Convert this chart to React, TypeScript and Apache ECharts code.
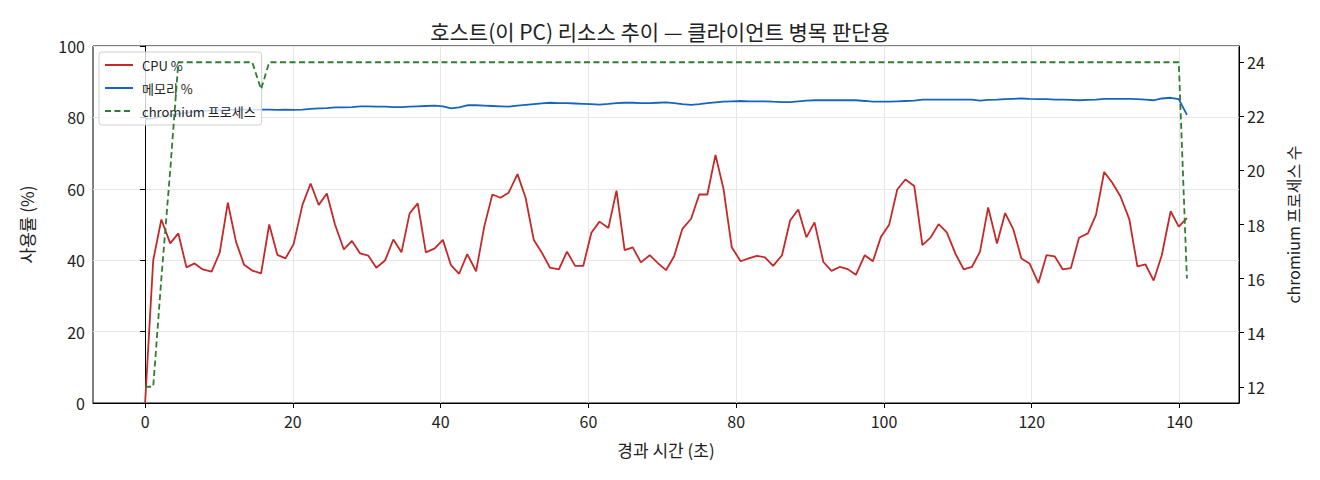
import React, { useEffect, useRef } from 'react';
import * as echarts from 'echarts';

const FONT = '"Noto Sans CJK KR", "Noto Sans", sans-serif';
const FG = '#222222';
const GRID_COLOR = '#e6e6e6';

const CPU_COLOR = '#c62828';
const MEM_COLOR = '#1565c0';
const PROC_COLOR = '#2e7d32';

// elapsed seconds of every sample
const TIMES = [
  0.0, 1.1, 2.2, 3.4, 4.5, 5.6, 6.7, 7.8, 9.0, 10.1, 11.2, 12.3, 13.4, 14.5, 15.7, 16.8,
  17.9, 19.0, 20.1, 21.3, 22.4, 23.5, 24.6, 25.7, 26.9, 28.0, 29.1, 30.2, 31.3, 32.5, 33.6,
  34.7, 35.8, 36.9, 38.0, 39.2, 40.3, 41.4, 42.5, 43.6, 44.8, 45.9, 47.0, 48.1, 49.2, 50.4,
  51.5, 52.6, 53.7, 54.8, 56.0, 57.1, 58.2, 59.3, 60.4, 61.5, 62.7, 63.8, 64.9, 66.0, 67.1,
  68.3, 69.4, 70.5, 71.6, 72.7, 73.9, 75.0, 76.1, 77.2, 78.3, 79.4, 80.6, 81.7, 82.8, 83.9,
  85.0, 86.2, 87.3, 88.4, 89.5, 90.6, 91.8, 92.9, 94.0, 95.1, 96.2, 97.4, 98.5, 99.6, 100.7,
  101.8, 102.9, 104.1, 105.2, 106.3, 107.4, 108.5, 109.7, 110.8, 111.9, 113.0, 114.1, 115.3,
  116.4, 117.5, 118.6, 119.7, 120.9, 122.0, 123.1, 124.2, 125.3, 126.4, 127.6, 128.7, 129.8,
  130.9, 132.0, 133.2, 134.3, 135.4, 136.5, 137.6, 138.8, 139.9, 141.0,
];

const CPU = [
  0, 40, 51.4, 44.7, 47.5, 38.0, 39.1, 37.4, 36.8, 42.1, 56.1, 45.2, 38.7, 37.1, 36.3, 50.0,
  41.5, 40.5, 44.5, 55.5, 61.5, 55.5, 58.7, 50.0, 43.0, 45.4, 41.9, 41.3, 37.9, 40.0, 45.8,
  42.2, 53.1, 55.9, 42.2, 43.3, 45.7, 38.6, 36.2, 41.7, 36.9, 49.4, 58.4, 57.5, 58.9, 64.1,
  57.5, 45.7, 42.1, 37.9, 37.4, 42.4, 38.4, 38.4, 47.7, 50.8, 49.0, 59.5, 42.8, 43.6, 39.4,
  41.4, 39.2, 37.2, 41.1, 48.7, 51.6, 58.4, 58.4, 69.5, 59.8, 43.6, 39.7, 40.5, 41.2, 40.8,
  38.4, 41.4, 51.1, 54.2, 46.4, 50.6, 39.5, 37.0, 38.1, 37.5, 35.9, 41.4, 39.7, 46.6, 49.9,
  59.8, 62.6, 60.8, 44.2, 46.3, 50.1, 47.8, 41.7, 37.4, 38.1, 42.4, 54.8, 44.7, 53.2, 48.7,
  40.5, 39.1, 33.6, 41.4, 41.1, 37.4, 37.8, 46.3, 47.5, 52.7, 64.7, 61.7, 57.9, 51.5, 38.3,
  38.8, 34.3, 41.4, 53.7, 49.4, 51.8,
];

const MEM = [
  79.6, 79.7, 80.2, 80.6, 81.0, 81.3, 81.6, 81.8, 81.9, 82.0, 82.1, 82.1, 82.2, 82.2, 82.2,
  82.2, 82.1, 82.2, 82.1, 82.2, 82.4, 82.5, 82.6, 82.8, 82.8, 82.9, 83.1, 83.1, 83.0, 83.0,
  82.9, 82.9, 83.0, 83.1, 83.2, 83.3, 83.1, 82.5, 82.8, 83.4, 83.4, 83.3, 83.2, 83.1, 83.0,
  83.3, 83.5, 83.7, 83.9, 84.1, 84.0, 84.0, 83.9, 83.8, 83.7, 83.6, 83.8, 84.0, 84.1, 84.1,
  84.0, 84.0, 84.1, 84.2, 84.0, 83.7, 83.5, 83.7, 84.0, 84.2, 84.4, 84.5, 84.6, 84.5, 84.5,
  84.5, 84.4, 84.3, 84.3, 84.5, 84.7, 84.8, 84.8, 84.8, 84.8, 84.8, 84.8, 84.6, 84.4, 84.4,
  84.4, 84.5, 84.6, 84.7, 85.0, 85.0, 85.0, 85.0, 85.0, 85.0, 85.0, 84.7, 84.9, 85.0, 85.1,
  85.2, 85.3, 85.2, 85.1, 85.1, 85.0, 85.0, 84.9, 84.8, 84.9, 85.0, 85.2, 85.2, 85.2, 85.2,
  85.1, 85.0, 84.8, 85.3, 85.5, 85.1, 80.7,
];

const PROCS = [
  12, 12, 16, 20, 24, 24, 24, 24, 24, 24, 24, 24, 24, 24, 23, 24, 24, 24, 24, 24, 24, 24, 24,
  24, 24, 24, 24, 24, 24, 24, 24, 24, 24, 24, 24, 24, 24, 24, 24, 24, 24, 24, 24, 24, 24, 24,
  24, 24, 24, 24, 24, 24, 24, 24, 24, 24, 24, 24, 24, 24, 24, 24, 24, 24, 24, 24, 24, 24, 24,
  24, 24, 24, 24, 24, 24, 24, 24, 24, 24, 24, 24, 24, 24, 24, 24, 24, 24, 24, 24, 24, 24, 24,
  24, 24, 24, 24, 24, 24, 24, 24, 24, 24, 24, 24, 24, 24, 24, 24, 24, 24, 24, 24, 24, 24, 24,
  24, 24, 24, 24, 24, 24, 24, 24, 24, 24, 24, 16,
];

const X_TICKS = [0, 20, 40, 60, 80, 100, 120, 140];
const RIGHT_TICKS = [12, 14, 16, 18, 20, 22, 24];

const pair = (vals: number[]) => TIMES.map((t, i) => [t, vals[i]]);

const tickText = { color: FG, fontFamily: FONT, fontSize: 16 };
const nameText = { color: FG, fontFamily: FONT, fontSize: 17 };

const App = (): JSX.Element => {
  const divEL = useRef<HTMLDivElement>(null);

  useEffect(() => {
    document.body.style.margin = '0';
    const instance = echarts.init(divEL.current as HTMLDivElement, undefined, { renderer: 'svg' });

    const option: echarts.EChartsOption = {
      animation: false,
      backgroundColor: '#ffffff',
      textStyle: { fontFamily: FONT },
      title: {
        text: '호스트(이 PC) 리소스 추이 — 클라이언트 병목 판단용',
        left: 'center',
        top: 15,
        textStyle: { color: FG, fontFamily: FONT, fontSize: 21, fontWeight: 'normal' },
      },
      grid: {
        left: 93,
        right: 81,
        top: 46,
        bottom: 77,
        show: true,
        borderColor: '#000000',
        borderWidth: 1,
        backgroundColor: 'transparent',
      },
      legend: {
        orient: 'vertical',
        left: 99,
        top: 52,
        z: 3,
        itemWidth: 28,
        itemHeight: 10,
        itemGap: 7,
        padding: [5, 6, 6, 5],
        backgroundColor: 'rgba(255,255,255,0.8)',
        borderColor: '#d0d0d0',
        borderWidth: 1,
        borderRadius: 3,
        itemStyle: { opacity: 0 },
        textStyle: { color: FG, fontFamily: FONT, fontSize: 13, lineHeight: 16, padding: [0, 0, 0, 4] },
        data: ['CPU %', '메모리 %', 'chromium 프로세스'],
      },
      xAxis: {
        type: 'value',
        min: -7.05,
        max: 148.05,
        name: '경과 시간 (초)',
        nameLocation: 'middle',
        nameGap: 38,
        nameTextStyle: nameText,
        axisLine: { onZero: false, lineStyle: { color: '#000000' } },
        axisTick: { show: true, length: 5, lineStyle: { color: '#000000' }, customValues: X_TICKS },
        axisLabel: { ...tickText, margin: 10, customValues: X_TICKS },
        splitLine: { show: true, lineStyle: { color: GRID_COLOR } },
      },
      yAxis: [
        {
          type: 'value',
          min: 0,
          max: 100,
          interval: 20,
          name: '사용률 (%)',
          nameLocation: 'middle',
          nameRotate: 90,
          nameGap: 58,
          nameTextStyle: nameText,
          axisLine: { show: true, lineStyle: { color: '#000000' } },
          axisTick: { show: true, length: 5, lineStyle: { color: '#000000' } },
          axisLabel: { ...tickText, margin: 8 },
          splitLine: { show: true, lineStyle: { color: GRID_COLOR } },
        },
        {
          type: 'value',
          position: 'right',
          min: 11.4,
          max: 24.6,
          name: 'chromium 프로세스 수',
          nameLocation: 'middle',
          nameRotate: 90,
          nameGap: 46,
          nameTextStyle: { ...nameText, fontSize: 16 },
          axisLine: { show: true, lineStyle: { color: '#000000' } },
          axisTick: { show: true, length: 5, lineStyle: { color: '#000000' }, customValues: RIGHT_TICKS },
          axisLabel: { ...tickText, margin: 8, customValues: RIGHT_TICKS },
          splitLine: { show: false },
        },
      ],
      series: [
        {
          name: 'CPU %',
          type: 'line',
          yAxisIndex: 0,
          symbol: 'none',
          z: 2,
          data: pair(CPU),
          lineStyle: { color: CPU_COLOR, width: 1.8 },
          itemStyle: { color: CPU_COLOR },
        },
        {
          name: '메모리 %',
          type: 'line',
          yAxisIndex: 0,
          symbol: 'none',
          z: 2,
          data: pair(MEM),
          lineStyle: { color: MEM_COLOR, width: 1.8 },
          itemStyle: { color: MEM_COLOR },
        },
        {
          // twin axis is drawn over the legend, as in the source figure
          name: 'chromium 프로세스',
          type: 'line',
          yAxisIndex: 1,
          symbol: 'none',
          z: 6,
          data: pair(PROCS),
          lineStyle: { color: PROC_COLOR, width: 1.8, type: [6, 3.5] },
          itemStyle: { color: PROC_COLOR },
        },
      ],
    };

    instance.setOption(option);

    return () => {
      instance.dispose();
    };
  }, []);

  return <div ref={divEL} style={{ width: 1320, height: 480 }}></div>;
};

export default App;
